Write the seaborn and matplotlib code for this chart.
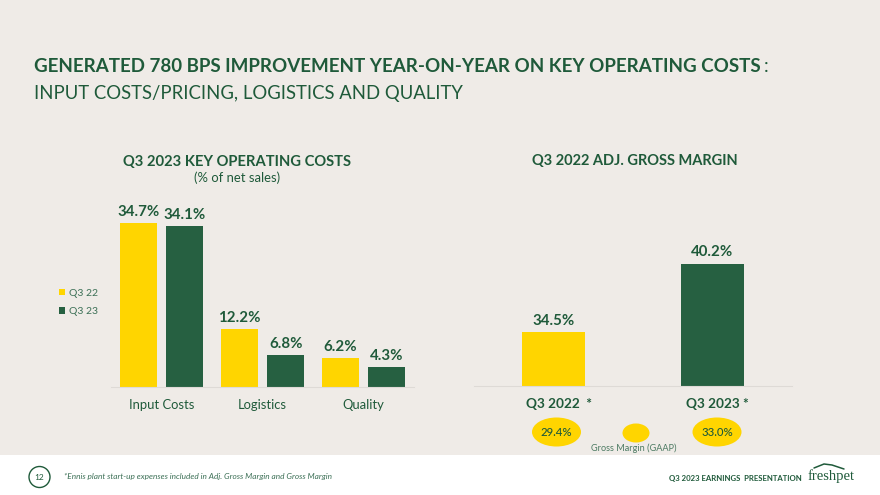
import matplotlib
matplotlib.use("Agg")
import matplotlib.pyplot as plt
from matplotlib.patches import Ellipse, Rectangle, Circle
from matplotlib.transforms import ScaledTranslation
import seaborn as sns
import pandas as pd

# data
cost_categories = ["Input Costs", "Logistics", "Quality"]
cost_q3_22 = [34.7, 12.2, 6.2]
cost_q3_23 = [34.1, 6.8, 4.3]
margin_quarters = ["Q3 2022  *", "Q3 2023 *"]
margin_values = [34.5, 40.2]
gaap_labels = ["29.4%", "33.0%"]

YELLOW = "#FFD500"
GREEN = "#266041"
TEXT = "#1F5A3A"
BG = "#EFEBE7"

sns.set_theme(style="white")
plt.rcParams["font.family"] = ["Lato", "DejaVu Sans"]

W, H = 880, 495
fig = plt.figure(figsize=(W / 100, H / 100), dpi=100, facecolor="white")


def px_axes(x0, y0, x1, y1):
    # y0 is the top edge in image pixels
    return fig.add_axes([x0 / W, 1 - y1 / H, (x1 - x0) / W, (y1 - y0) / H])


# overlay for the slide furniture, in image pixels
bg = fig.add_axes([0, 0, 1, 1])
bg.set_xlim(0, W)
bg.set_ylim(H, 0)
bg.axis("off")
bg.add_patch(Rectangle((0, 0), W, 455, color=BG, lw=0))

bg.text(34, 66, "GENERATED 780 BPS IMPROVEMENT YEAR-ON-YEAR ON KEY OPERATING COSTS", fontsize=13.5,
        fontweight="bold", color=TEXT, va="center", ha="left")
bg.text(764, 66, ":", fontsize=13.5, color=TEXT, va="center", ha="left")
bg.text(34, 93, "INPUT COSTS/PRICING, LOGISTICS AND QUALITY", fontsize=13.35, color=TEXT, va="center", ha="left")

bg.text(237, 162, "Q3 2023 KEY OPERATING COSTS", fontsize=10.6, fontweight="bold", color=TEXT, ha="center", va="center")
bg.text(237, 178, "(% of net sales)", fontsize=9.4, color=TEXT, ha="center", va="center")
bg.text(635, 161, "Q3 2022 ADJ. GROSS MARGIN", fontsize=10.5, fontweight="bold", color=TEXT, ha="center", va="center")

# left chart
costs = pd.DataFrame({
    "category": cost_categories * 2,
    "value": cost_q3_22 + cost_q3_23,
    "period": ["Q3 22"] * 3 + ["Q3 23"] * 3,
})
ax1 = px_axes(111, 205, 414, 387)
ax1.patch.set_alpha(0)
sns.barplot(data=costs, x="category", y="value", hue="period", palette=[YELLOW, GREEN],
            width=0.926, gap=0.21, saturation=1, linewidth=0, ax=ax1)
ax1.set_ylim(0, 38.5)
for c in ax1.containers:
    ax1.bar_label(c, fmt="%.1f%%", fontsize=10.8, fontweight="bold", color=TEXT, padding=3)
ax1.legend(loc="center left", bbox_to_anchor=(-0.172, 0.465), frameon=False, fontsize=7.5, labelcolor="#3C7056",
           handlelength=0.6, handleheight=0.6, handletextpad=0.35, labelspacing=0.9, borderpad=0, borderaxespad=0)

# right chart
margin = pd.DataFrame({"quarter": margin_quarters, "value": margin_values})
ax2 = px_axes(474, 205, 792, 386)
ax2.patch.set_alpha(0)
sns.barplot(data=margin, x="quarter", y="value", hue="quarter", palette=[YELLOW, GREEN], width=0.4,
            saturation=1, linewidth=0, legend=False, ax=ax2)
ax2.set_ylim(30, 45.08)
for c in ax2.containers:
    ax2.bar_label(c, fmt="%.1f%%", fontsize=10.8, fontweight="bold", color=TEXT, padding=3)

for ax, size, weight in [(ax1, 9.4, "normal"), (ax2, 9.8, "bold")]:
    ax.set_xlabel("")
    ax.set_ylabel("")
    ax.set_yticks([])
    ax.tick_params(axis="x", length=0, pad=8.5, labelsize=size, labelcolor=TEXT)
    for lab in ax.get_xticklabels():
        lab.set_fontweight(weight)
    sns.despine(ax=ax, left=True)
    ax.spines["bottom"].set_color("#DEDAD6")
    ax.spines["bottom"].set_linewidth(0.8)

# the quarter labels sit a little right of their bars
shift = ScaledTranslation(5 / 100, 0, fig.dpi_scale_trans)
for lab in ax2.get_xticklabels():
    lab.set_transform(lab.get_transform() + shift)

# GAAP bubbles
for cx, label in zip([556.5, 717], gaap_labels):
    bg.add_patch(Ellipse((cx, 432), 49, 29, color=YELLOW, lw=0))
    bg.text(cx, 432.5, label, fontsize=8.2, fontweight="medium", color=TEXT, ha="center", va="center")
bg.add_patch(Ellipse((636, 433), 27, 19, color=YELLOW, lw=0))
bg.text(634, 448.5, "Gross Margin (GAAP)", fontsize=6.6, color="#4C7A62", ha="center", va="center")

# footer
bg.add_patch(Circle((39.5, 477), 10.5, fill=False, ec=TEXT, lw=1))
bg.text(39.5, 477, "12", fontsize=6, color=TEXT, ha="center", va="center")
bg.text(64, 476.5, "*Ennis plant start-up expenses included in Adj. Gross Margin and Gross Margin", fontsize=5.95,
        style="italic", color="#3C7056", ha="left", va="center")
bg.text(802, 478, "Q3 2023 EARNINGS  PRESENTATION", fontsize=5.55, fontweight="bold", color=TEXT, ha="right", va="center")
bg.text(831, 476, "freshpet", fontsize=10.5, family="Liberation Serif", color=TEXT, ha="center", va="center")
bg.plot([814, 824, 832, 844], [468, 464, 465, 469], color=TEXT, lw=1.1)

fig.savefig("out.png", dpi=100, facecolor="white")
